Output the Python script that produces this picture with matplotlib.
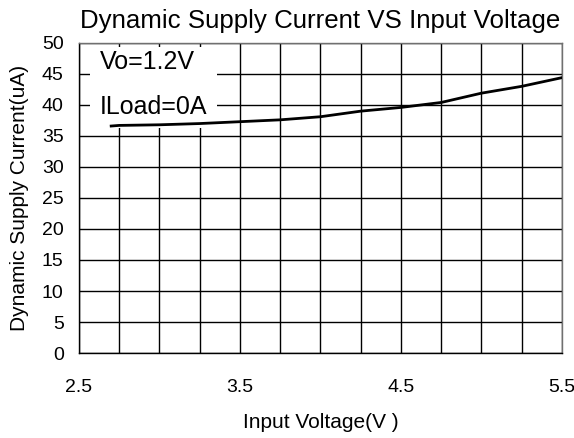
import matplotlib
matplotlib.use("Agg")
import matplotlib.pyplot as plt
from matplotlib.patches import Rectangle
from matplotlib.ticker import MultipleLocator

# curve
vin = [2.7, 2.75, 3.0, 3.25, 3.5, 3.75, 4.0, 4.25, 4.5, 4.75, 5.0, 5.25, 5.5]
idd = [36.6, 36.7, 36.8, 37.0, 37.3, 37.6, 38.1, 39.0, 39.6, 40.4, 41.9, 43.0, 44.4]

x_ticks = [2.5, 3.5, 4.5, 5.5]
y_ticks = [0, 5, 10, 15, 20, 25, 30, 35, 40, 45, 50]

plt.rcParams['font.family'] = ['Liberation Sans', 'DejaVu Sans']

fig = plt.figure(figsize=(5.74, 4.38), dpi=100)
ax = fig.add_axes([0.1376, 0.194, 0.8414, 0.708])

ax.set_xlim(2.5, 5.5)
ax.set_ylim(0, 50)
ax.set_xticks(x_ticks)
ax.set_xticklabels([str(v) for v in x_ticks])
ax.xaxis.set_minor_locator(MultipleLocator(0.25))
ax.set_yticks(y_ticks)

ax.set_axisbelow(True)
ax.grid(True, which='both', color='black', linewidth=1.0)
ax.tick_params(which='both', length=0)
ax.tick_params(axis='x', pad=19, labelsize=14)
ax.tick_params(axis='y', pad=11, labelsize=14)

for s in ['left', 'bottom']:
    ax.spines[s].set_color('black')
    ax.spines[s].set_linewidth(1.0)
for s in ['top', 'right']:
    ax.spines[s].set_color('#707070')
    ax.spines[s].set_linewidth(1.0)

# white box behind the condition labels
ax.add_patch(Rectangle((2.57, 36.3), 0.79, 13.05, facecolor='white',
                       edgecolor='none', zorder=1))

ax.plot(vin, idd, color='black', linewidth=2.0, zorder=3)

ax.text(2.63, 46.9, "Vo=1.2V", fontsize=18, va='center', ha='left', zorder=4)
ax.text(2.63, 39.7, "ILoad=0A", fontsize=18, va='center', ha='left', zorder=4)

ax.set_title("Dynamic Supply Current VS Input Voltage", fontsize=18.6, pad=11)
ax.set_xlabel("Input Voltage(V )", fontsize=15, labelpad=12)
ax.set_ylabel("Dynamic Supply Current(uA)", fontsize=15, labelpad=9)

fig.savefig("out.png", dpi=100)
